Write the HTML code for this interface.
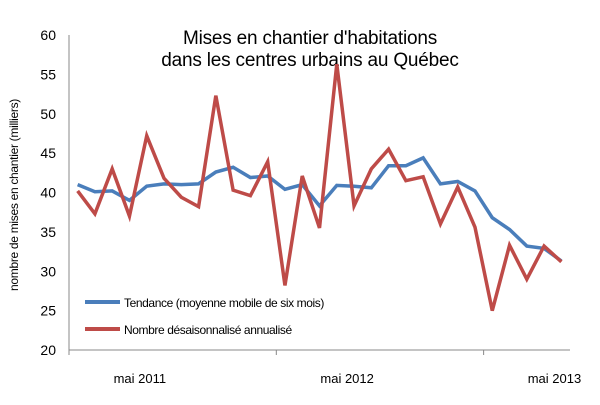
<!DOCTYPE html>
<html><head><meta charset="utf-8"><style>
body{margin:0;background:#fff;font-family:"Liberation Sans",sans-serif}
svg text{font-family:"Liberation Sans",sans-serif}
</style></head><body>
<svg width="600" height="400">
<text x="310" y="44" text-anchor="middle" font-size="19" letter-spacing="-0.2"><tspan x="310">Mises en chantier d'habitations</tspan><tspan x="310" dy="22">dans les centres urbains au Québec</tspan></text>
<text transform="translate(18,195) rotate(-90)" text-anchor="middle" font-size="12" letter-spacing="-0.3">nombre de mises en chantier (milliers)</text>
<g id="yax"></g><g id="xax"></g><g id="series"></g>
<g>
<line x1="85" y1="302" x2="120" y2="302" stroke="#4a7ebb" stroke-width="4"/>
<text x="124" y="307" font-size="12" letter-spacing="-0.4">Tendance (moyenne mobile de six mois)</text>
<line x1="85" y1="329" x2="120" y2="329" stroke="#be4b48" stroke-width="4"/>
<text x="124" y="334" font-size="12" letter-spacing="-0.4">Nombre désaisonnalisé annualisé</text>
</g>
</svg>
<script>
const yTicks=[20,25,30,35,40,45,50,55,60];
const xLabels=["mai 2011","mai 2012","mai 2013"];
const xLabelIdx=[3.6,15.6,27.6];
const tendance=[41,40.1,40.2,39,40.8,41.1,41,41.1,42.6,43.2,41.9,42.1,40.4,41,38.3,40.9,40.8,40.6,43.4,43.4,44.4,41.1,41.4,40.2,36.8,35.3,33.2,32.9,31.3];
const nombre=[40.2,37.3,43,37,47.2,41.8,39.4,38.2,52.3,40.3,39.6,43.9,28.2,42.1,35.5,56.3,38.3,43,45.5,41.5,42,36,40.7,35.6,25,33.3,29,33.2,31.2];
const NS="http://www.w3.org/2000/svg";
const x0=69,x1=570,y0=350,y1=35;
const n=nombre.length,step=(x1-x0)/n;
const X=i=>x0+step*(i+0.5);
const Y=v=>y0-(v-20)/(60-20)*(y0-y1);
function mk(t,a,p){const e=document.createElementNS(NS,t);for(const k in a)e.setAttribute(k,a[k]);p.appendChild(e);return e;}
const ya=document.getElementById('yax');
mk('line',{x1:x0,y1:y1,x2:x0,y2:y0,stroke:'#888','stroke-width':1},ya);
yTicks.forEach(v=>{const t=mk('text',{x:56,y:Y(v)+5,'text-anchor':'end','font-size':14},ya);t.textContent=v;

});
const xa=document.getElementById('xax');
mk('line',{x1:x0,y1:y0,x2:x1,y2:y0,stroke:'#888','stroke-width':1},xa);
for(let i=0;i<=n;i+=12){mk('line',{x1:x0+i*step,y1:y0,x2:x0+i*step,y2:y0+5,stroke:'#888'},xa);}
xLabels.forEach((l,j)=>{const t=mk('text',{x:X(xLabelIdx[j]),y:383,'text-anchor':'middle','font-size':13},xa);t.textContent=l;

});
const s=document.getElementById('series');
function line(d,c,name){const p=mk('polyline',{points:d.map((v,i)=>X(i)+','+Y(v)).join(' '),fill:'none',stroke:c,'stroke-width':3.5,'stroke-linejoin':'miter'},s);

}
line(tendance,'#4a7ebb','series-tendance');
line(nombre,'#be4b48','series-nombre');
</script>
</body></html>
